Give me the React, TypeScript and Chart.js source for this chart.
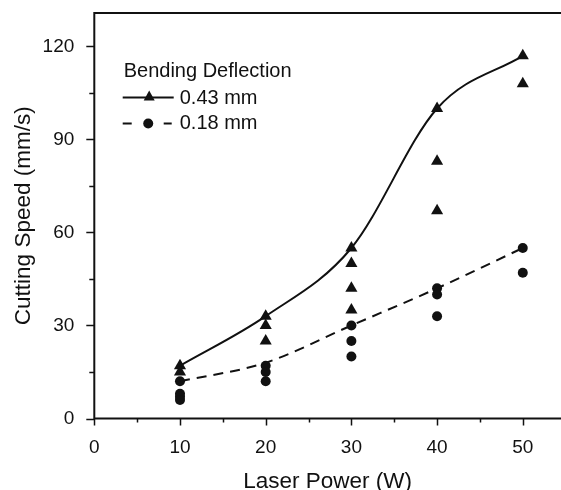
import React, { useEffect, useRef } from 'react';
import { Chart, registerables } from 'chart.js';
Chart.register(...registerables);

// ---- data ----
const fitPower = [10, 20, 30, 40, 50];
const fit043 = [17, 33, 55, 100, 117];
const fit018 = [12, 18, 30, 42, 55];
const tri043X = [10, 10, 20, 20, 20, 30, 30, 30, 30, 40, 40, 40, 50, 50];
const tri043Y = [17, 15, 33, 30, 25, 55, 50, 42, 35, 100, 83, 67, 117, 108];
const cir018X = [10, 10, 10, 10, 20, 20, 20, 30, 30, 30, 40, 40, 40, 50, 50];
const cir018Y = [12, 8, 7, 6, 17, 15, 12, 30, 25, 20, 42, 40, 33, 55, 47];
const xTickValues = [0, 10, 20, 30, 40, 50];
const xMinorValues = [5, 15, 25, 35, 45];
const yTickValues = [0, 30, 60, 90, 120];
const yMinorValues = [15, 45, 75, 105];
const legendTitle = 'Bending Deflection';
const seriesLabels = ['0.43 mm', '0.18 mm'];
const xTitle = 'Laser Power (W)';
const yTitle = 'Cutting Speed (mm/s)';

const FONT = "'Liberation Sans', Arial, Helvetica, sans-serif";
const INK = '#111';

const framePlugin = {
  id: 'frame',
  afterDraw(chart: any) {
    const { ctx, chartArea, scales } = chart;
    const { left, right, top, bottom } = chartArea;
    ctx.save();
    ctx.strokeStyle = INK;
    ctx.lineWidth = 2;
    ctx.beginPath();
    ctx.moveTo(left, bottom);
    ctx.lineTo(left, top);
    ctx.lineTo(right, top);
    ctx.moveTo(left - 1, bottom);
    ctx.lineTo(right, bottom);
    ctx.stroke();
    ctx.lineWidth = 1.5;
    ctx.beginPath();
    xTickValues.forEach((v) => {
      const p = Math.round(scales.x.getPixelForValue(v)) + 0.5;
      ctx.moveTo(p, bottom);
      ctx.lineTo(p, bottom + 7);
    });
    xMinorValues.forEach((v) => {
      const p = Math.round(scales.x.getPixelForValue(v)) + 0.5;
      ctx.moveTo(p, bottom);
      ctx.lineTo(p, bottom + 4);
    });
    yTickValues.forEach((v) => {
      const p = Math.round(scales.y.getPixelForValue(v)) + 0.5;
      ctx.moveTo(left, p);
      ctx.lineTo(left - 8, p);
    });
    yMinorValues.forEach((v) => {
      const p = Math.round(scales.y.getPixelForValue(v)) + 0.5;
      ctx.moveTo(left, p);
      ctx.lineTo(left - 5, p);
    });
    ctx.stroke();

    // legend
    const lx = left + 28.4;
    ctx.fillStyle = INK;
    ctx.font = `20px ${FONT}`;
    ctx.textBaseline = 'middle';
    ctx.textAlign = 'left';
    ctx.fillText(legendTitle, lx + 1, top + 58);
    // row 1
    let y = top + 84.5;
    ctx.lineWidth = 2;
    ctx.setLineDash([]);
    ctx.beginPath();
    ctx.moveTo(lx, y);
    ctx.lineTo(lx + 51, y);
    ctx.stroke();
    ctx.beginPath();
    ctx.moveTo(lx + 26.5, y - 7);
    ctx.lineTo(lx + 32, y + 3);
    ctx.lineTo(lx + 21, y + 3);
    ctx.closePath();
    ctx.fill();
    ctx.fillText(seriesLabels[0], lx + 57, y + 1);
    // row 2
    y = top + 110.5;
    ctx.beginPath();
    ctx.moveTo(lx, y);
    ctx.lineTo(lx + 9, y);
    ctx.moveTo(lx + 41, y);
    ctx.lineTo(lx + 49, y);
    ctx.stroke();
    ctx.beginPath();
    ctx.arc(lx + 25.5, y, 5, 0, Math.PI * 2);
    ctx.fill();
    ctx.fillText(seriesLabels[1], lx + 57, y);
    ctx.restore();
  },
};

export default function App() {
  const ref = useRef<HTMLCanvasElement>(null);
  useEffect(() => {
    document.body.style.margin = '0';
    const toPts = (xs: number[], ys: number[]) => xs.map((x, i) => ({ x, y: ys[i] }));
    const chart = new Chart(ref.current!, {
      type: 'scatter',
      data: {
        datasets: [
          {
            type: 'line',
            label: 'fit 0.43',
            data: toPts(fitPower, fit043),
            borderColor: INK,
            borderWidth: 2,
            pointRadius: 0,
            cubicInterpolationMode: 'monotone',
            fill: false,
          } as any,
          {
            type: 'line',
            label: 'fit 0.18',
            data: toPts(fitPower, fit018),
            borderColor: INK,
            borderWidth: 2,
            borderDash: [10, 7],
            pointRadius: 0,
            cubicInterpolationMode: 'monotone',
            fill: false,
          } as any,
          {
            label: seriesLabels[0],
            data: toPts(tri043X, tri043Y),
            pointStyle: 'triangle',
            pointRadius: 7,
            backgroundColor: INK,
            borderColor: INK,
            borderWidth: 0,
          },
          {
            label: seriesLabels[1],
            data: toPts(cir018X, cir018Y),
            pointStyle: 'circle',
            pointRadius: 5,
            backgroundColor: INK,
            borderColor: INK,
            borderWidth: 0,
          },
        ],
      },
      options: {
        animation: false,
        responsive: false,
        layout: { autoPadding: false, padding: { top: 13, right: 0, left: 0, bottom: 0 } },
        plugins: { legend: { display: false }, tooltip: { enabled: false } },
        scales: {
          x: {
            type: 'linear',
            min: 0,
            max: 54.46,
            grid: { display: false },
            border: { display: false },
            afterBuildTicks: (s: any) => {
              s.ticks = xTickValues.map((value) => ({ value }));
            },
            afterFit: (s: any) => {
              s.height = 71.5;
              s.paddingLeft = 0;
              s.paddingRight = 0;
            },
            ticks: { color: INK, font: { family: FONT, size: 19 }, padding: 10 },
            title: {
              display: true,
              text: xTitle,
              color: INK,
              font: { family: FONT, size: 22.5, lineHeight: 1 },
              padding: { top: 0, bottom: -3 },
            },
          },
          y: {
            type: 'linear',
            min: 0,
            max: 130.8,
            grid: { display: false },
            border: { display: false },
            afterBuildTicks: (s: any) => {
              s.ticks = yTickValues.map((value) => ({ value }));
            },
            afterFit: (s: any) => {
              s.width = 94.3;
              s.paddingTop = 0;
              s.paddingBottom = 0;
            },
            ticks: { color: INK, font: { family: FONT, size: 19 }, padding: 12 },
            title: {
              display: true,
              text: yTitle,
              color: INK,
              font: { family: FONT, size: 22.5, lineHeight: 1 },
              padding: { top: 13, bottom: 0 },
            },
          },
        },
      },
      plugins: [framePlugin],
    });
    return () => chart.destroy();
  }, []);
  return <canvas ref={ref} width={561} height={490} style={{ display: 'block' }} />;
}
